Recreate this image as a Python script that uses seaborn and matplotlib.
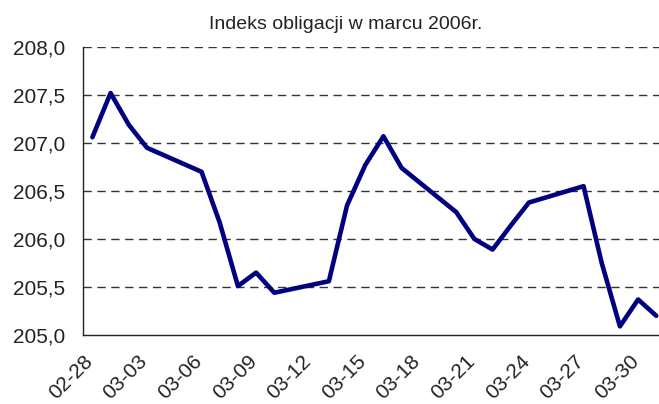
import matplotlib
matplotlib.use('Agg')
import matplotlib.pyplot as plt
import matplotlib.dates as mdates
import seaborn as sns
import pandas as pd

# dane
dates = ['2006-02-28', '2006-03-01', '2006-03-02', '2006-03-03', '2006-03-06',
         '2006-03-07', '2006-03-08', '2006-03-09', '2006-03-10', '2006-03-13',
         '2006-03-14', '2006-03-15', '2006-03-16', '2006-03-17', '2006-03-20',
         '2006-03-21', '2006-03-22', '2006-03-23', '2006-03-24', '2006-03-27',
         '2006-03-28', '2006-03-29', '2006-03-30', '2006-03-31']
index_values = [207.06, 207.52, 207.19, 206.95, 206.70,
                206.17, 205.51, 205.65, 205.44, 205.56,
                206.35, 206.77, 207.07, 206.74, 206.28,
                206.00, 205.89, 206.14, 206.38, 206.55,
                205.75, 205.09, 205.37, 205.20]
tick_dates = ['2006-02-28', '2006-03-03', '2006-03-06', '2006-03-09', '2006-03-12',
              '2006-03-15', '2006-03-18', '2006-03-21', '2006-03-24', '2006-03-27',
              '2006-03-30']
y_ticks = [205.0, 205.5, 206.0, 206.5, 207.0, 207.5, 208.0]

sns.set_style('white')
plt.rcParams['font.family'] = ['Liberation Sans', 'DejaVu Sans']

# Excel rysuje punkty w srodku dnia (miedzy znacznikami)
df = pd.DataFrame({'data': pd.to_datetime(dates) + pd.Timedelta(hours=12),
                   'indeks': index_values})

fig = plt.figure(figsize=(6.59, 4.04), dpi=100)
ax = fig.add_axes([0.1264, 0.1708, 1.0097 - 0.1264, 0.8837 - 0.1708])

sns.lineplot(data=df, x='data', y='indeks', ax=ax, color='#000080', linewidth=3.3)

ax.set_xlim(pd.Timestamp('2006-02-28'), pd.Timestamp('2006-04-01'))
ax.set_ylim(205.0, 208.0)
ax.set_yticks(y_ticks)
ax.set_yticklabels([f'{v:.1f}'.replace('.', ',') for v in y_ticks])
ax.set_xticks(pd.to_datetime(tick_dates))
ax.xaxis.set_major_formatter(mdates.DateFormatter('%m-%d'))

for v in y_ticks[1:]:
    ax.axhline(v, color='#333333', linewidth=1, linestyle=(0, (6, 4)), zorder=0)

for lab in ax.get_xticklabels():
    lab.set_rotation(45)
    lab.set_ha('right')
    lab.set_rotation_mode('anchor')

ax.tick_params(axis='both', which='major', direction='out', length=6, width=1,
               color='#222222', labelsize=15, labelcolor='#222222', pad=3)
ax.tick_params(axis='y', pad=7)
ax.tick_params(axis='x', pad=6, labelsize=15)

for side in ['top', 'right']:
    ax.spines[side].set_visible(False)
for side in ['left', 'bottom']:
    ax.spines[side].set_color('#222222')
    ax.spines[side].set_linewidth(1)

ax.set_xlabel('')
ax.set_ylabel('')
fig.text(0.524, 0.94, 'Indeks obligacji w marcu 2006r.', ha='center', va='center',
         fontsize=14, color='#222222')

fig.savefig('out.png', dpi=100)
